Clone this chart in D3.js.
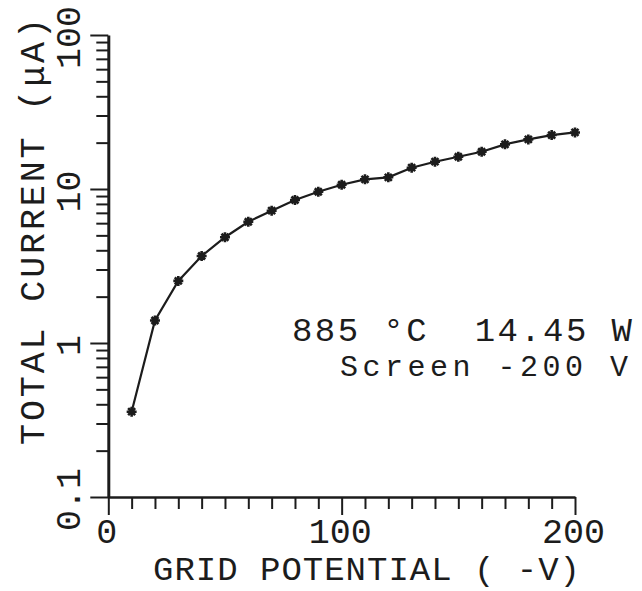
<!DOCTYPE html>
<html>
<head>
<meta charset="utf-8">
<script src="https://cdn.jsdelivr.net/npm/d3@7/dist/d3.min.js"></script>
<style>
  html, body { margin: 0; padding: 0; background: #fff; }
  svg { display: block; }
  text { font-family: "Liberation Mono", "DejaVu Sans Mono", monospace; fill: #1c1c1c; white-space: pre; }
</style>
</head>
<body>
<svg id="chart" width="642" height="591"></svg>
<script>
// Grid potential (-V) and total current (µA)
const gridPotential = [10, 20, 30, 40, 50, 60, 70, 80, 90, 100,
                       110, 120, 130, 140, 150, 160, 170, 180, 190, 200];
const totalCurrent  = [0.358, 1.40, 2.53, 3.67, 4.86, 6.13, 7.23, 8.48, 9.60, 10.66,
                       11.56, 11.91, 13.75, 15.04, 16.2, 17.46, 19.5, 21.0, 22.4, 23.3];

const xMajorTicks = [0, 100, 200];
const xTickLabels = ["0", "100", "200"];
const yMajorTicks = [0.1, 1, 10, 100];
const yTickLabels = ["0.1", "1", "10", "100"];

const xTitle = "GRID POTENTIAL ( -V)";
const yTitle = "TOTAL CURRENT (μA)";
const noteLine1 = "885 °C  14.45 W";
const noteLine2 = "Screen -200 V";

const ink = "#1c1c1c";
const svg = d3.select("#chart");

const x = d3.scaleLinear().domain([0, 200]).range([108.3, 575]);
const y = d3.scaleLog().domain([0.1, 100]).range([497, 35]);

// ---- x axis: minor ticks every 10, longer major ticks at 0/100/200
const xMinor = x.ticks(20).filter(d => !xMajorTicks.includes(d));
const gx = svg.append("g").attr("transform", `translate(0,${y(0.1)})`);
gx.append("g")
  .call(d3.axisBottom(x).tickValues(xMinor).tickSize(12).tickSizeOuter(0).tickFormat(""))
  .call(g => g.select(".domain").remove());
gx.append("g")
  .call(d3.axisBottom(x).tickValues(xMajorTicks).tickSize(18).tickSizeOuter(0)
        .tickFormat((d, i) => xTickLabels[i]))
  .call(g => g.select(".domain").attr("stroke-width", 2.6));
gx.selectAll(".tick line").attr("stroke", ink).attr("stroke-width", 2);
gx.select(".domain").attr("stroke", ink);
gx.selectAll(".tick text")
  .attr("y", 46).attr("dy", 0).attr("dx", -2)
  .style("font-size", "35px").attr("fill", ink);

// ---- y axis: log decades with 2..9 minor ticks
const yMinor = y.ticks().filter(d => !yMajorTicks.some(m => Math.abs(m - d) < 1e-9));
const gy = svg.append("g").attr("transform", `translate(${x(0)},0)`);
gy.append("g")
  .call(d3.axisLeft(y).tickValues(yMinor).tickSize(12).tickSizeOuter(0).tickFormat(""))
  .call(g => g.select(".domain").remove());
gy.append("g")
  .call(d3.axisLeft(y).tickValues(yMajorTicks).tickSize(18).tickSizeOuter(0)
        .tickFormat((d, i) => yTickLabels[i]))
  .call(g => g.select(".domain").attr("stroke-width", 3));
gy.selectAll(".tick line").attr("stroke", ink).attr("stroke-width", 2);
gy.select(".domain").attr("stroke", ink);
gy.selectAll(".tick text")
  .attr("transform", "rotate(-90)")
  .attr("x", -2).attr("y", -28).attr("dy", 0)
  .attr("text-anchor", "middle")
  .style("font-size", "35px").attr("fill", ink);

// ---- axis titles
svg.append("text")
  .attr("x", 366.5).attr("y", 580)
  .attr("text-anchor", "middle")
  .attr("textLength", 427).attr("lengthAdjust", "spacing")
  .style("font-size", "34px")
  .text(xTitle);

svg.append("text")
  .attr("transform", "translate(44,231.5) rotate(-90)")
  .attr("text-anchor", "middle")
  .attr("textLength", 427).attr("lengthAdjust", "spacing")
  .style("font-size", "35px")
  .text(yTitle);

// ---- annotation
svg.append("text")
  .attr("x", 292).attr("y", 341)
  .attr("textLength", 340).attr("lengthAdjust", "spacing")
  .style("font-size", "34px")
  .text(noteLine1);
svg.append("text")
  .attr("x", 340).attr("y", 376)
  .attr("textLength", 288).attr("lengthAdjust", "spacing")
  .style("font-size", "30px")
  .text(noteLine2);

// ---- data line and star markers
const pts = gridPotential.map((v, i) => [v, totalCurrent[i]]);
svg.append("path")
  .datum(pts)
  .attr("fill", "none")
  .attr("stroke", ink)
  .attr("stroke-width", 2.2)
  .attr("d", d3.line().x(d => x(d[0])).y(d => y(d[1])));

const r = 5;
const star = `M${-r},0L${r},0M0,${-r}L0,${r}` +
             `M${-r*0.7},${-r*0.7}L${r*0.7},${r*0.7}M${-r*0.7},${r*0.7}L${r*0.7},${-r*0.7}`;
svg.append("g").selectAll("path")
  .data(pts)
  .join("path")
  .attr("transform", d => `translate(${x(d[0])},${y(d[1])})`)
  .attr("d", star)
  .attr("stroke", ink)
  .attr("stroke-width", 2.6)
  .attr("fill", "none");
</script>
</body>
</html>
